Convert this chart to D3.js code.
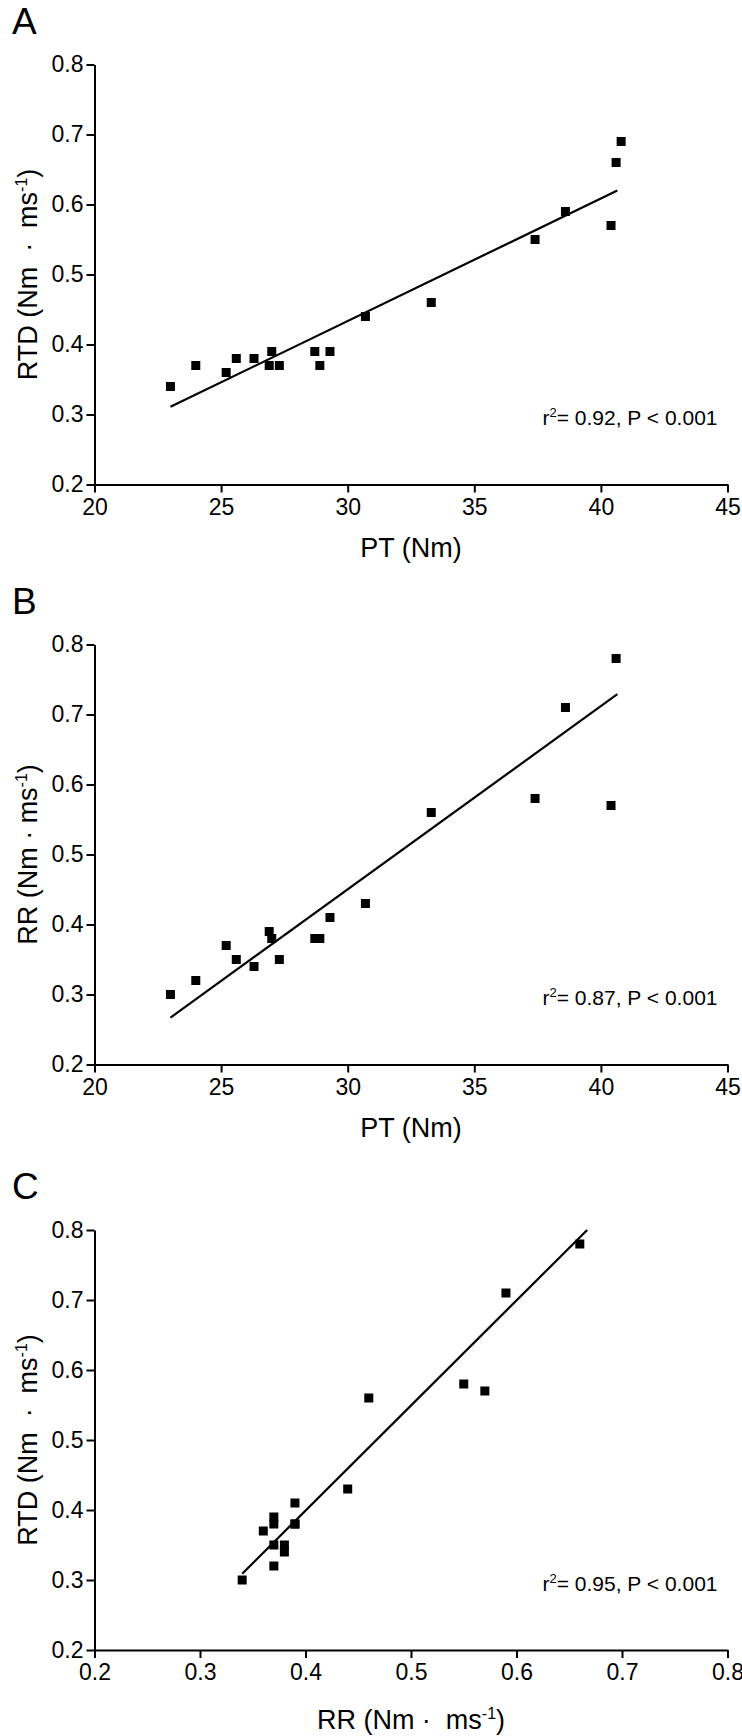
<!DOCTYPE html>
<html>
<head>
<meta charset="utf-8">
<script src="https://cdn.jsdelivr.net/npm/d3@7"></script>
<style>
  body { margin: 0; background: #fff; }
  text { font-family: "Liberation Sans", Arial, sans-serif; fill: #000; }
</style>
</head>
<body>
<div id="chart"></div>
<script>
// panel A: PT vs RTD
var ptA  = [23.0, 24.0, 25.2, 25.6, 26.3, 26.9, 27.0, 27.3, 28.7, 28.9, 29.3, 30.7, 33.3, 37.4, 38.6, 40.4, 40.6, 40.8];
var rtdA = [0.34, 0.37, 0.36, 0.38, 0.38, 0.37, 0.39, 0.37, 0.39, 0.37, 0.39, 0.44, 0.46, 0.55, 0.59, 0.57, 0.66, 0.69];
// panel B: PT vs RR
var ptB  = [23.0, 24.0, 25.2, 25.6, 26.3, 26.9, 27.0, 27.3, 28.7, 28.9, 29.3, 30.7, 33.3, 37.4, 38.6, 40.4, 40.6];
var rrB  = [0.30, 0.32, 0.37, 0.35, 0.34, 0.39, 0.38, 0.35, 0.38, 0.38, 0.41, 0.43, 0.56, 0.58, 0.71, 0.57, 0.78];
// panel C: values as plotted (x axis labelled RR, y axis labelled RTD)
var rrC  = [0.34, 0.37, 0.36, 0.38, 0.38, 0.37, 0.39, 0.37, 0.39, 0.37, 0.39, 0.44, 0.46, 0.55, 0.59, 0.57, 0.66];
var rtdC = [0.30, 0.32, 0.37, 0.35, 0.34, 0.39, 0.38, 0.35, 0.38, 0.38, 0.41, 0.43, 0.56, 0.58, 0.71, 0.57, 0.78];

// regression line end points
var fitA = {x: [23.0, 40.65], y: [0.311, 0.620]};
var fitB = {x: [23.0, 40.65], y: [0.267, 0.729]};
var fitC = {x: [0.34, 0.667], y: [0.309, 0.800]};

var ptTicks = [20, 25, 30, 35, 40, 45];
var ratioTicks = [0.2, 0.3, 0.4, 0.5, 0.6, 0.7, 0.8];
var stats = ["0.92, P < 0.001", "0.87, P < 0.001", "0.95, P < 0.001"];

var W = 742, H = 1736;
var left = 94.5, plotW = 633, plotH = 420;

var svg = d3.select("#chart").append("svg")
  .attr("width", W)
  .attr("height", H);

function drawPanel(p) {
  var g = svg.append("g").attr("transform", "translate(" + left + "," + p.top + ")");

  var x = d3.scaleLinear().domain(p.xdom).range([0, plotW]);
  var y = d3.scaleLinear().domain([0.2, 0.8]).range([plotH, 0]);

  // panel letter
  svg.append("text")
    .attr("x", 12)
    .attr("y", p.top - 31)
    .style("font-size", "37px")
    .text(p.letter);

  // axes
  var xa = g.append("g")
    .attr("transform", "translate(0," + plotH + ")")
    .call(d3.axisBottom(x).tickValues(p.xticks).tickSize(8).tickSizeOuter(0).tickPadding(6)
      .tickFormat(function(d) { return p.xfmt(d); }));
  xa.selectAll("text").style("font-size", "23px");

  var ya = g.append("g")
    .call(d3.axisLeft(y).tickValues(ratioTicks).tickSize(8).tickSizeOuter(0).tickPadding(3)
      .tickFormat(d3.format(".1f")));
  ya.selectAll("text").style("font-size", "23px");

  g.selectAll(".domain, .tick line").attr("stroke", "#000").attr("stroke-width", 2);

  // x title
  var xt = g.append("text")
    .attr("x", plotW / 2)
    .attr("y", plotH + p.xtitleGap)
    .attr("text-anchor", "middle")
    .style("font-size", "27px");
  p.xtitle(xt);

  // y title
  var yt = g.append("text")
    .attr("transform", "rotate(-90)")
    .attr("x", -plotH / 2)
    .attr("y", -57.5)
    .attr("text-anchor", "middle")
    .style("font-size", "27px");
  p.ytitle(yt);

  // fit line
  var line = d3.line()
    .x(function(d) { return x(d[0]); })
    .y(function(d) { return y(d[1]); });
  g.append("path")
    .datum(d3.zip(p.fit.x, p.fit.y))
    .attr("d", line)
    .attr("fill", "none")
    .attr("stroke", "#000")
    .attr("stroke-width", 2.2);

  // points
  var s = 9;
  g.selectAll(".pt")
    .data(d3.zip(p.xs, p.ys))
    .enter()
    .append("rect")
      .attr("x", function(d) { return x(d[0]) - s / 2; })
      .attr("y", function(d) { return y(d[1]) - s / 2; })
      .attr("width", s)
      .attr("height", s)
      .attr("fill", "#000");

  // r2 annotation
  var st = g.append("text")
    .attr("x", 623)
    .attr("y", y(0.285))
    .attr("text-anchor", "end")
    .style("font-size", "21px");
  st.append("tspan").text("r");
  st.append("tspan").attr("dy", -8).style("font-size", "13px").text("2");
  st.append("tspan").attr("dy", 8).text("= " + p.stat);
}

function unitTitle(name, pre, post) {
  return function(t) {
    t.append("tspan").text(name + " (Nm" + pre + "\u00B7" + post + "ms");
    t.append("tspan").attr("dy", -10).style("font-size", "16px").text("-1");
    t.append("tspan").attr("dy", 10).text(")");
  };
}

var fmt1 = d3.format(".1f");

drawPanel({
  letter: "A", top: 64.5, xdom: [20, 45], xticks: ptTicks, xfmt: String,
  xs: ptA, ys: rtdA, fit: fitA, stat: stats[0], xtitleGap: 72.5,
  xtitle: function(t) { t.text("PT (Nm)"); },
  ytitle: unitTitle("RTD", " \u00A0", "\u00A0 ")
});

drawPanel({
  letter: "B", top: 644.5, xdom: [20, 45], xticks: ptTicks, xfmt: String,
  xs: ptB, ys: rrB, fit: fitB, stat: stats[1], xtitleGap: 72.5,
  xtitle: function(t) { t.text("PT (Nm)"); },
  ytitle: unitTitle("RR", " ", " ")
});

drawPanel({
  letter: "C", top: 1230, xdom: [0.2, 0.8], xticks: ratioTicks, xfmt: fmt1,
  xs: rrC, ys: rtdC, fit: fitC, stat: stats[2], xtitleGap: 79,
  xtitle: unitTitle("RR", " ", " \u00A0"),
  ytitle: unitTitle("RTD", " \u00A0", "\u00A0 ")
});
</script>
</body>
</html>
